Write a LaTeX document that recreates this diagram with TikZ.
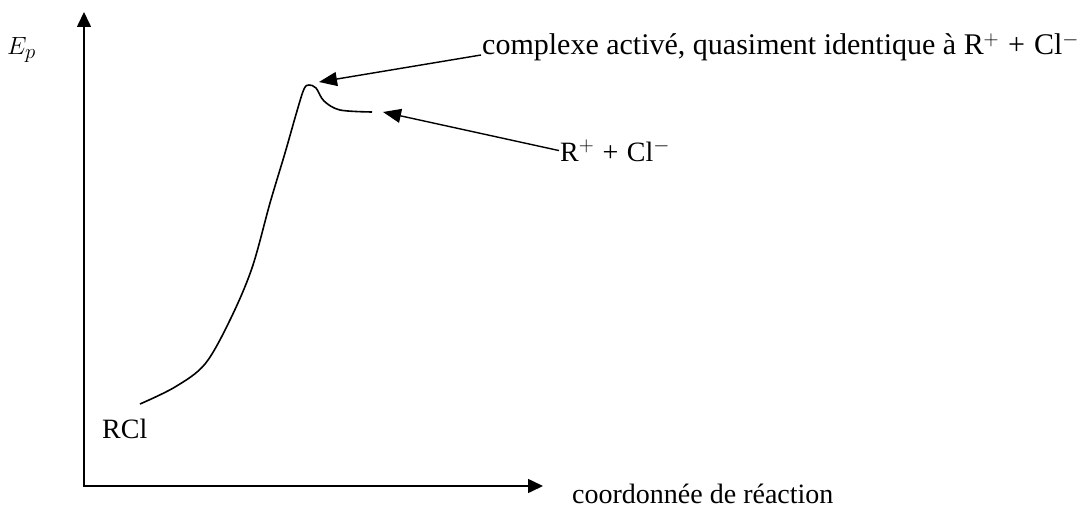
\documentclass[tikz,border=0pt]{standalone}
\usepackage{fontspec}
\setmainfont{Liberation Serif}
\usetikzlibrary{arrows.meta}

\begin{document}
\begin{tikzpicture}[
  x=1pt, y=-1pt,
  axis/.style={line width=1.6pt, {Triangle[length=15pt,width=14pt]}-{Triangle[length=15pt,width=14pt]}},
  arr/.style={-{Triangle[length=18pt,width=14pt]}, line width=1.4pt},
  curve/.style={line width=1.6pt, line join=round},
  lbl/.style={font=\fontsize{28}{32}\selectfont, inner sep=1pt},
]
\useasboundingbox (0,0) rectangle (1087,508);

% axes
\coordinate (origin) at (84,486);
\coordinate (ytop) at (84,12);
\coordinate (xend) at (543,486);
\draw[axis] (ytop) |- (xend);

% energy profile
\draw[curve] plot[smooth, tension=0.55] coordinates {(140,404) (175,387) (205,364) (230,320) (252,268) (270,203) (285,153) (297,111) (304,89) (309,85) (316,88) (324,101) (340,110) (372,112)};
\coordinate (peak) at (319,82);
\coordinate (prod) at (383,112);

% labels
\node[lbl, anchor=base west] (ep) at (6,55) {$E_p$};
\node[lbl, anchor=base west] (rcl) at (101,438) {RCl};
\node[lbl, font=\fontsize{30}{34}\selectfont, anchor=base west] (cplx) at (481,55) {complexe activé, quasiment identique à R$^{+}$\hspace{0.3em}+\hspace{0.3em}Cl$^{-}$};
\node[lbl, anchor=base west] (ions) at (559,161) {R$^{+}$\hspace{0.3em}+\hspace{0.3em}Cl$^{-}$};
\node[lbl, anchor=base west] (coord) at (571,503) {coordonnée de réaction};

\draw[arr] (cplx.base west) -- (peak);
\draw[arr] (ions.west) -- (prod);

\end{tikzpicture}
\end{document}
